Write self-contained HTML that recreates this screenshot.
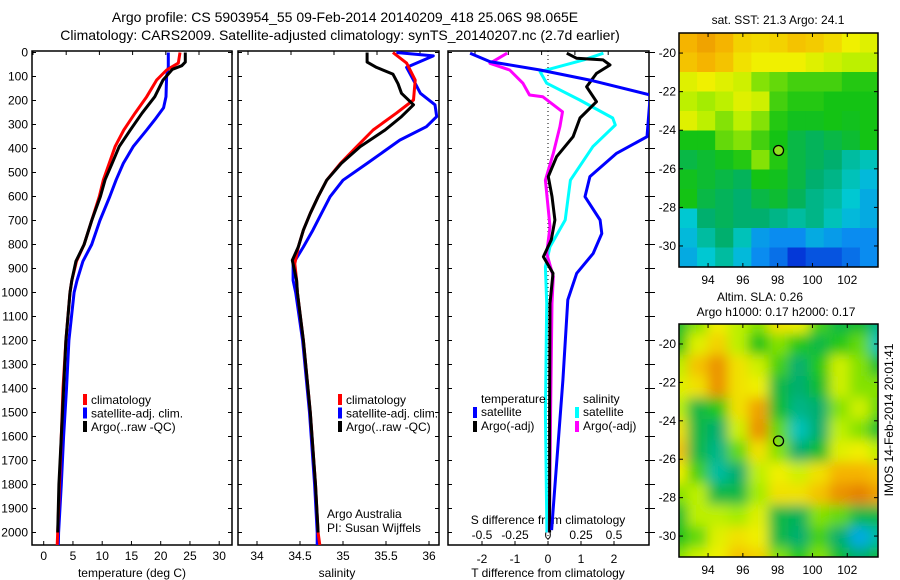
<!DOCTYPE html>
<html><head><meta charset="utf-8"><style>
body{margin:0;background:#fff;}
svg{display:block;font-family:"Liberation Sans",sans-serif;}
</style></head><body>
<svg id="fig" width="900" height="580" viewBox="0 0 900 580">
<defs>
<filter id="blur" x="0" y="0" width="1" height="1"><feGaussianBlur stdDeviation="6"/></filter>
<clipPath id="clip1"><rect x="679" y="33" width="199" height="234"/></clipPath>
<clipPath id="clip2"><rect x="679" y="324" width="199" height="233"/></clipPath>
<clipPath id="cp1"><rect x="32" y="51" width="200" height="494"/></clipPath>
<clipPath id="cp2"><rect x="238" y="51" width="201" height="494"/></clipPath>
<clipPath id="cp3"><rect x="448" y="51" width="201" height="494"/></clipPath>
</defs>
</svg>
<script>
const depthTicks=[0,100,200,300,400,500,600,700,800,900,1000,1100,1200,1300,1400,1500,1600,1700,1800,1900,2000];
const tempTicks=[0,5,10,15,20,25,30];
const salTicks=[34,34.5,35,35.5,36];
const tdiffTicks=[-2,-1,0,1,2];
const sdiffTicks=[-0.5,-0.25,0,0.25,0.5];
const tClimDepth=[0,44,73,115,184,253,323,392,462,530,600,700,800,870,950,1000,1200,1400,1600,1800,2000,2052];
const tClimVal=[23.3,23,21,19.3,17.6,15.6,13.7,12.2,11.2,10.2,9.5,8.2,6.9,5.6,4.8,4.5,3.8,3.3,3.0,2.7,2.4,2.3];
const tSatDepth=[0,60,100,184,230,280,323,392,462,530,600,700,800,870,950,1000,1200,1400,1600,1800,2000,2052];
const tSatVal=[21.3,21.3,21,20.9,20.5,19,17.6,15.3,13.6,12.4,11.3,9.6,8.2,6.7,5.7,5.2,4.3,3.9,3.4,3.0,2.55,2.5];
const tArgoDepth=[0,40,55,70,115,184,253,323,392,462,530,600,700,800,870,950,1000,1200,1400,1600,1800,2000];
const tArgoVal=[24.2,24.2,23.6,22,20.4,19,16.8,14.8,12.9,11.7,10.5,9.7,8.2,6.9,5.5,4.8,4.5,3.8,3.4,3.0,2.6,2.4];
const sClimDepth=[0,44,115,198,253,323,392,462,532,601,670,740,810,880,949,1000,1200,1500,1800,2000,2052];
const sClimVal=[35.58,35.74,35.84,35.82,35.62,35.35,35.16,34.97,34.81,34.71,34.62,34.54,34.48,34.44,34.46,34.47,34.54,34.62,34.68,34.71,34.73];
const sSatDepth=[0,14,62,115,170,218,267,309,365,462,532,601,670,740,810,880,949,1000,1200,1500,1800,2000,2052];
const sSatVal=[35.62,36.05,35.74,35.82,35.9,36.07,36.09,35.97,35.66,35.28,35.0,34.85,34.75,34.65,34.54,34.42,34.42,34.45,34.53,34.61,34.67,34.7,34.7];
const sArgoDepth=[0,40,62,90,130,170,218,267,323,392,462,532,601,670,740,810,866,949,1000,1200,1500,1800,2000];
const sArgoVal=[35.28,35.28,35.39,35.58,35.64,35.68,35.82,35.68,35.49,35.2,34.98,34.81,34.71,34.62,34.54,34.48,34.41,34.46,34.47,34.54,34.62,34.68,34.71];
const dTSatDepth=[3,38,73,115,177,351,420,517,601,698,754,837,920,1031,1365,1990];
const dTSatVal=[-2.36,-1.76,-0.24,1.27,3.1,3.0,2.08,1.27,1.12,1.58,1.63,1.37,0.87,0.6,0.45,0.11];
const dTArgoDepth=[3,24,31,52,87,143,205,273,351,434,517,600,698,780,851,920,1045,1500,2000];
const dTArgoVal=[0.57,0.87,1.67,1.88,1.47,1.17,1.47,0.97,0.76,0.26,0.01,0.12,0.21,0.1,-0.14,0.15,0.06,0.05,0.05];
const dSSatDepth=[3,31,80,128,198,273,302,392,532,698,809,893,1045,1500,2000];
const dSSatVal=[0.42,0.27,-0.06,-0.01,0.24,0.49,0.51,0.34,0.17,0.13,0.015,-0.02,-0.01,-0.02,-0.008];
const dSArgoDepth=[3,45,73,128,177,184,247,309,420,532,726,837,934,1045,1500,2000];
const dSArgoVal=[-0.31,-0.44,-0.29,-0.19,-0.14,-0.04,0.11,0.09,0.04,-0.02,0.015,-0.01,0.04,0.03,0.02,0.01];
const sstGrid=[
[0.8,0.82,0.8,0.76,0.75,0.76,0.78,0.77,0.75,0.72,0.7],
[0.78,0.8,0.78,0.74,0.72,0.72,0.72,0.7,0.68,0.66,0.66],
[0.7,0.72,0.7,0.68,0.62,0.6,0.58,0.58,0.58,0.56,0.56],
[0.66,0.64,0.66,0.7,0.68,0.58,0.56,0.56,0.55,0.55,0.55],
[0.7,0.66,0.62,0.66,0.62,0.56,0.54,0.54,0.55,0.54,0.55],
[0.55,0.55,0.6,0.62,0.58,0.55,0.5,0.48,0.5,0.52,0.55],
[0.5,0.52,0.54,0.56,0.62,0.56,0.5,0.48,0.46,0.42,0.4],
[0.54,0.52,0.5,0.48,0.55,0.54,0.5,0.46,0.44,0.4,0.36],
[0.55,0.5,0.48,0.46,0.5,0.52,0.48,0.44,0.42,0.38,0.34],
[0.38,0.46,0.48,0.46,0.46,0.44,0.42,0.44,0.4,0.36,0.34],
[0.36,0.42,0.46,0.4,0.32,0.3,0.3,0.34,0.32,0.3,0.3],
[0.34,0.38,0.42,0.36,0.3,0.28,0.24,0.26,0.26,0.28,0.3]];
const slaGrid=[
[0.52,0.62,0.72,0.66,0.62,0.74,0.72,0.58,0.5,0.52,0.44],
[0.55,0.7,0.76,0.66,0.55,0.62,0.56,0.5,0.56,0.6,0.4],
[0.66,0.78,0.84,0.74,0.68,0.58,0.46,0.56,0.68,0.62,0.52],
[0.7,0.74,0.84,0.74,0.72,0.5,0.46,0.52,0.68,0.62,0.62],
[0.66,0.5,0.56,0.74,0.82,0.52,0.44,0.46,0.62,0.68,0.6],
[0.74,0.5,0.46,0.68,0.84,0.6,0.4,0.46,0.66,0.62,0.52],
[0.78,0.5,0.44,0.6,0.74,0.62,0.46,0.52,0.7,0.72,0.66],
[0.72,0.58,0.42,0.46,0.66,0.72,0.68,0.74,0.8,0.8,0.78],
[0.62,0.66,0.5,0.5,0.64,0.74,0.74,0.78,0.84,0.86,0.82],
[0.52,0.66,0.66,0.64,0.7,0.5,0.48,0.62,0.6,0.5,0.5],
[0.54,0.6,0.7,0.74,0.72,0.5,0.46,0.58,0.46,0.34,0.42],
[0.62,0.68,0.72,0.78,0.76,0.62,0.56,0.62,0.52,0.46,0.52]];
const lonTicks=[94,96,98,100,102];
const latTicks=[-20,-22,-24,-26,-28,-30];
const argoLon=98.05, argoLat=-25.05;

const NS='http://www.w3.org/2000/svg';
const svg=document.getElementById('fig');
function el(tag,attrs,parent){const e=document.createElementNS(NS,tag);for(const k in attrs)e.setAttribute(k,attrs[k]);(parent||svg).appendChild(e);return e;}
function txt(x,y,s,anchor,size,parent){const t=el('text',{x:x,y:y,'text-anchor':anchor||'start','font-size':size||12,fill:'#000'},parent);t.textContent=s;return t;}
const yD=d=>52.5+d*0.24;
const xT=v=>43.7+v*5.85;
const xS=v=>257+(v-34)*86;
const xdT=v=>548+v*33;
const xdS=v=>548+v*132;

function line(depths,vals,fx,color,clip,name){
  const pts=depths.map((d,i)=>fx(vals[i]).toFixed(1)+','+yD(d).toFixed(1)).join(' ');
  const p=el('polyline',{points:pts,fill:'none',stroke:color,'stroke-width':3,'stroke-linejoin':'round','clip-path':'url(#'+clip+')'});
  
  
}
function frame(x0,x1,name){
  const r=el('rect',{x:x0,y:51,width:x1-x0,height:494,fill:'none',stroke:'#000','stroke-width':1.5});
  
  
  depthTicks.forEach(d=>{const y=yD(d);el('line',{x1:x0,x2:x0+4,y1:y,y2:y,stroke:'#000'});el('line',{x1:x1-4,x2:x1,y1:y,y2:y,stroke:'#000'});});
}

const t1=txt(345,22,'Argo profile: CS 5903954_55 09-Feb-2014 20140209_418 25.06S 98.065E','middle',14);


const t2=txt(340,40,'Climatology: CARS2009. Satellite-adjusted climatology: synTS_20140207.nc (2.7d earlier)','middle',14);



frame(32,232,'temperature-panel');
depthTicks.forEach(d=>{const t=txt(28,yD(d)+4,String(d),'end',12);});
tempTicks.forEach(v=>{el('line',{x1:xT(v),x2:xT(v),y1:545,y2:541,stroke:'#000'});el('line',{x1:33+v/5*33.2,x2:33+v/5*33.2,y1:51,y2:55,stroke:'#000'});
 const t=txt(xT(v),560,String(v),'middle',12);});
const xt1=txt(132,577,'temperature (deg C)','middle',12);
line(tSatDepth,tSatVal,xT,'#0000ff','cp1','temp-satellite-line');
line(tClimDepth,tClimVal,xT,'#ff0000','cp1','temp-climatology-line');
line(tArgoDepth,tArgoVal,xT,'#000000','cp1','temp-argo-line');

frame(238,439,'salinity-panel');
salTicks.forEach(v=>{el('line',{x1:xS(v),x2:xS(v),y1:545,y2:541,stroke:'#000'});el('line',{x1:xS(v)-9,x2:xS(v)-9,y1:51,y2:55,stroke:'#000'});
 const t=txt(xS(v),560,String(v),'middle',12);});
const xt2=txt(337,577,'salinity','middle',12);
line(sSatDepth,sSatVal,xS,'#0000ff','cp2','sal-satellite-line');
line(sClimDepth,sClimVal,xS,'#ff0000','cp2','sal-climatology-line');
line(sArgoDepth,sArgoVal,xS,'#000000','cp2','sal-argo-line');
txt(327,518,'Argo Australia','start',12);
txt(327,532,'PI: Susan Wijffels','start',12);

[[83,'p1'],[338,'p2']].forEach(([lx,p])=>{
 [['#ff0000','climatology'],['#0000ff','satellite-adj. clim.'],['#000000','Argo(..raw -QC)']].forEach(([c,s],i)=>{
  const y=400+i*13.5;
  const m=el('rect',{x:lx,y:y-6,width:4,height:11,fill:c});
  
  
  const t=txt(lx+8,y+4,s,'start',12);
  
  
 });
});

frame(448,649,'difference-panel');
depthTicks.forEach(d=>{const y=yD(d);el('line',{x1:649,x2:655,y1:y,y2:y,stroke:'#000'});});
el('line',{x1:548,x2:548,y1:51,y2:545,stroke:'#000','stroke-dasharray':'1,3'});
tdiffTicks.forEach(v=>{el('line',{x1:xdT(v),x2:xdT(v),y1:545,y2:541,stroke:'#000'});
 const t=txt(xdT(v),563,String(v),'middle',12);});
[-2,-1,0,1,2].forEach(v=>{el('line',{x1:482+(v+2)*33.3-7,x2:482+(v+2)*33.3-7,y1:51,y2:55,stroke:'#000'});});
sdiffTicks.forEach(v=>{const t=txt(xdS(v),539,String(v),'middle',12);});
const xt3=txt(548,524,'S difference from climatology','middle',12);
const xt4=txt(548,577,'T difference from climatology','middle',12);
line(dSSatDepth,dSSatVal,xdS,'#00ffff','cp3','sdiff-satellite-line');
line(dSArgoDepth,dSArgoVal,xdS,'#ff00ff','cp3','sdiff-argo-line');
line(dTArgoDepth,dTArgoVal,xdT,'#000000','cp3','tdiff-argo-line');
line(dTSatDepth,dTSatVal,xdT,'#0000ff','cp3','tdiff-satellite-line');
txt(481,403,'temperature','start',12);
txt(583,403,'salinity','start',12);
[[473,'#0000ff','satellite',416],[473,'#000000','Argo(-adj)',430],[575,'#00ffff','satellite',416],[575,'#ff00ff','Argo(-adj)',430]].forEach(([x,c,s,y])=>{
 const m=el('rect',{x:x,y:y-9,width:4,height:11,fill:c});
 
 
 const t=txt(x+8,y,s,'start',12);
 
 
});

const stops=[[0.2,[0,0,200]],[0.3,[10,140,240]],[0.38,[0,200,210]],[0.46,[0,175,110]],[0.55,[20,195,20]],[0.65,[180,240,0]],[0.72,[240,240,0]],[0.8,[245,180,0]],[0.86,[230,130,0]]];
function cmap(v){
 if(v<=stops[0][0])return 'rgb('+stops[0][1]+')';
 for(let i=1;i<stops.length;i++){if(v<=stops[i][0]){const a=stops[i-1],b=stops[i],f=(v-a[0])/(b[0]-a[0]);
  return 'rgb('+a[1].map((c,k)=>Math.round(c+(b[1][k]-c)*f)).join(',')+')';}}
 return 'rgb('+stops[stops.length-1][1]+')';
}
function drawMap(grid,top,bottom,clip,blur,name){
 const g=el('g',{'clip-path':'url(#'+clip+')'});
 
 
 const inner=el('g',blur?{filter:'url(#blur)'}:{},g);
 const rows=grid.length,cols=grid[0].length;
 const pad=blur?12:0;
 const x0=679-pad,x1=878+pad,y0=top-pad,y1=bottom+pad;
 const cw=(x1-x0)/cols,ch=(y1-y0)/rows;
 grid.forEach((row,r)=>row.forEach((v,c)=>{
  const cell=el('rect',{x:x0+c*cw,y:y0+r*ch,width:cw+0.6,height:ch+0.6,fill:cmap(v)},inner);
  
  
 }));
 el('rect',{x:679,y:top,width:199,height:bottom-top,fill:'none',stroke:'#000','stroke-width':1.5});
 const xL=lon=>679+(lon-92.33)*17.4;
 const yL=lat=>top+(-18.96-lat)*((bottom-top)/12.13);
 lonTicks.forEach(l=>{const x=xL(l);el('line',{x1:x,x2:x,y1:bottom,y2:bottom-4,stroke:'#000'});el('line',{x1:x,x2:x,y1:top,y2:top+4,stroke:'#000'});
  const t=txt(x,bottom+17,String(l),'middle',12);});
 latTicks.forEach(l=>{const y=yL(l);el('line',{x1:679,x2:683,y1:y,y2:y,stroke:'#000'});el('line',{x1:874,x2:878,y1:y,y2:y,stroke:'#000'});
  const t=txt(676,y+4,String(l),'end',12);});
 const c=el('circle',{cx:xL(argoLon),cy:yL(argoLat),r:5,fill:blur?'none':'#90e020',stroke:'#000','stroke-width':1.3});
 
 
}
drawMap(sstGrid,33,267,'clip1',false,'sst-map');
drawMap(slaGrid,324,557,'clip2',true,'sla-map');
const mt1=txt(778,24,'sat. SST: 21.3 Argo: 24.1','middle',12);
const mt2=txt(760,301,'Altim. SLA: 0.26','middle',12);
const mt3=txt(776,316,'Argo h1000: 0.17 h2000: 0.17','middle',12);
const stamp=txt(0,0,'IMOS 14-Feb-2014 20:01:41','middle',12);
stamp.setAttribute('transform','translate(893,420) rotate(-90)');


</script>
</body></html>
